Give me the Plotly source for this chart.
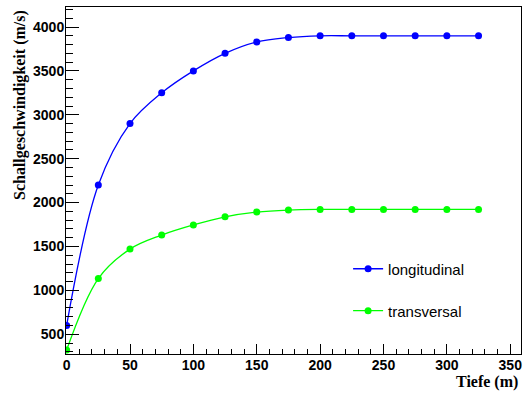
import plotly.graph_objects as go

depth = [0, 25, 50, 75, 100, 125, 150, 175, 200, 225, 250, 275, 300, 325]
v_long = [600, 2200, 2900, 3250, 3500, 3700, 3830, 3880, 3900, 3900, 3900, 3900, 3900, 3900]
v_trans = [320, 1135, 1470, 1630, 1745, 1838, 1892, 1915, 1922, 1922, 1922, 1922, 1922, 1922]

x_range = [-0.5, 358.5]
y_range = [275, 4228]

fig = go.Figure()
fig.add_trace(go.Scatter(
    x=depth, y=v_long, name="longitudinal", mode="lines+markers",
    line=dict(color="#0000ff", width=1.3, shape="spline", smoothing=1.0),
    marker=dict(color="#0000ff", size=7), legend="legend"))
fig.add_trace(go.Scatter(
    x=depth, y=v_trans, name="transversal", mode="lines+markers",
    line=dict(color="#00ff00", width=1.3, shape="spline", smoothing=1.0),
    marker=dict(color="#00ff00", size=7), legend="legend2"))

tickfont = dict(family="Liberation Sans, Arial, sans-serif", size=14, color="black", weight="bold")
titlefont = dict(family="Liberation Serif, Times New Roman, serif", size=16, color="black")
legfont = dict(family="Liberation Sans, Arial, sans-serif", size=15, color="black")

fig.update_layout(
    width=524, height=394,
    margin=dict(l=66, r=3, t=7, b=40),
    paper_bgcolor="white", plot_bgcolor="white",
    xaxis=dict(range=x_range, showgrid=False, zeroline=False,
               showline=True, mirror=True, linecolor="black", linewidth=1,
               ticks="inside", ticklen=10, tickwidth=1, tickcolor="black",
               tick0=0, dtick=50, tickfont=tickfont, ticklabelstandoff=-2,
               minor=dict(ticks="inside", ticklen=5, tickwidth=1, tickcolor="black", dtick=10, showgrid=False)),
    yaxis=dict(range=y_range, showgrid=False, zeroline=False,
               showline=True, mirror=True, linecolor="black", linewidth=1,
               ticks="inside", ticklen=13, tickwidth=1, tickcolor="black",
               tick0=0, dtick=500, tickfont=tickfont, ticklabelstandoff=-2,
               minor=dict(ticks="inside", ticklen=7, tickwidth=1, tickcolor="black", dtick=100, showgrid=False)),
    legend=dict(x=0.62, y=0.245, xanchor="left", yanchor="middle",
                bgcolor="rgba(0,0,0,0)", borderwidth=0, font=legfont),
    legend2=dict(x=0.62, y=0.124, xanchor="left", yanchor="middle",
                 bgcolor="rgba(0,0,0,0)", borderwidth=0, font=legfont),
    showlegend=True,
    annotations=[
        dict(text="<b>Tiefe (m)</b>", xref="paper", yref="paper", x=1, y=0,
             xanchor="right", yanchor="middle", xshift=-1, yshift=-28, showarrow=False, font=titlefont),
        dict(text="<b>Schallgeschwindigkeit (m/s)</b>", xref="paper", yref="paper", x=0, y=1,
             xanchor="center", yanchor="top", xshift=-46, yshift=-1, textangle=-90,
             showarrow=False, font=titlefont),
    ],
)

fig.write_html("out.html")
